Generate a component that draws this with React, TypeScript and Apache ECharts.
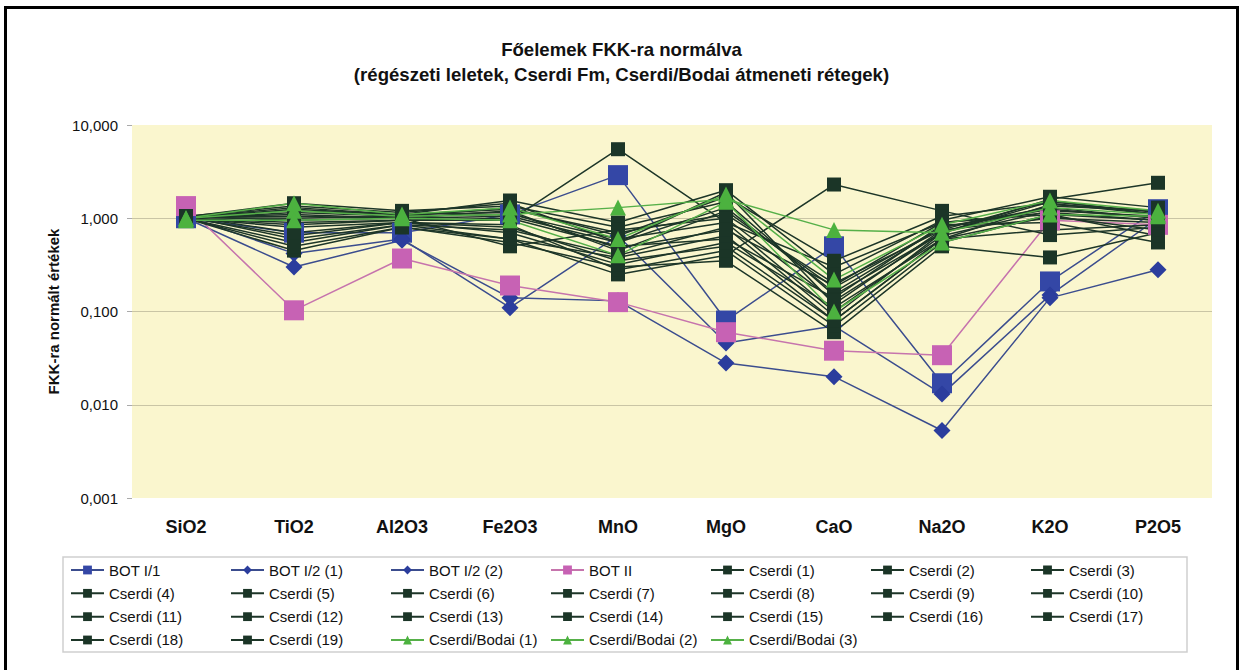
import React, { useEffect, useRef } from 'react';
import * as echarts from 'echarts';

const categories = ['SiO2', 'TiO2', 'Al2O3', 'Fe2O3', 'MnO', 'MgO', 'CaO', 'Na2O', 'K2O', 'P2O5'];

const botI1 = [1.0, 0.7, 0.7, 1.1, 2.9, 0.08, 0.5, 0.017, 0.21, 1.25];
const botI2a = [1.05, 0.42, 0.6, 0.11, 0.65, 0.046, 0.07, 0.013, 0.15, 1.0];
const botI2b = [1.0, 0.3, 0.58, 0.14, 0.13, 0.028, 0.02, 0.0053, 0.14, 0.28];
const botII = [1.35, 0.103, 0.37, 0.19, 0.126, 0.06, 0.038, 0.034, 0.95, 0.85];

const cserdiValues = [
  [1.05, 1.35, 1.15, 1.45, 0.55, 1.9, 0.12, 0.75, 1.55, 1.1],
  [1.02, 1.1, 1.0, 1.2, 0.45, 1.2, 0.18, 0.8, 1.3, 1.0],
  [1.0, 0.85, 0.95, 0.95, 5.5, 0.9, 0.3, 0.9, 1.1, 0.95],
  [1.05, 0.7, 0.9, 0.8, 0.35, 0.5, 0.08, 0.6, 1.4, 1.2],
  [1.0, 0.55, 0.85, 0.6, 0.25, 0.4, 2.3, 1.2, 0.66, 0.8],
  [1.03, 1.45, 1.2, 1.35, 0.8, 1.5, 0.15, 0.7, 1.6, 2.4],
  [1.0, 0.45, 0.8, 0.55, 0.3, 0.35, 0.06, 0.5, 0.38, 0.7],
  [1.02, 1.0, 1.05, 1.1, 0.6, 0.9, 0.1, 0.65, 1.2, 1.05],
  [1.04, 1.2, 1.1, 1.25, 0.7, 1.1, 0.2, 0.75, 1.0, 0.9],
  [1.0, 0.9, 0.95, 1.0, 0.5, 0.6, 0.14, 0.85, 0.9, 0.55],
  [1.05, 0.6, 0.85, 0.75, 0.4, 0.8, 0.09, 0.7, 1.5, 1.15],
  [1.01, 1.25, 1.1, 1.55, 0.9, 2.0, 0.25, 0.95, 1.7, 1.3],
  [1.0, 0.8, 0.9, 0.85, 0.28, 0.45, 0.07, 0.55, 1.1, 0.65],
  [1.03, 1.05, 1.0, 1.05, 0.55, 1.3, 0.16, 0.8, 1.25, 1.0],
  [1.02, 0.65, 0.9, 0.7, 0.32, 0.55, 0.11, 0.6, 0.75, 0.85],
  [1.0, 1.15, 1.05, 1.3, 0.65, 1.7, 0.35, 1.05, 1.45, 1.1],
  [1.04, 0.95, 1.0, 0.5, 0.75, 1.0, 0.13, 0.7, 1.35, 1.2],
  [1.0, 0.5, 0.8, 0.6, 0.38, 0.65, 0.08, 0.6, 1.05, 0.75],
  [1.02, 1.3, 1.1, 1.15, 0.48, 0.75, 0.19, 0.9, 1.15, 0.95],
];

const cb1 = [1.0, 1.2, 1.05, 1.1, 1.3, 1.6, 0.75, 0.7, 1.3, 1.1];
const cb2 = [1.0, 1.45, 1.1, 1.3, 0.6, 1.8, 0.22, 0.85, 1.55, 1.2];
const cb3 = [0.95, 0.95, 1.0, 0.95, 0.4, 1.5, 0.1, 0.55, 1.1, 1.05];

const cserdiNames = cserdiValues.map((_, i) => `Cserdi (${i + 1})`);

// legend laid out row by row, 7 columns
const legendOrder = [
  'BOT I/1', 'BOT I/2 (1)', 'BOT I/2 (2)', 'BOT II', 'Cserdi (1)', 'Cserdi (2)', 'Cserdi (3)',
  'Cserdi (4)', 'Cserdi (5)', 'Cserdi (6)', 'Cserdi (7)', 'Cserdi (8)', 'Cserdi (9)', 'Cserdi (10)',
  'Cserdi (11)', 'Cserdi (12)', 'Cserdi (13)', 'Cserdi (14)', 'Cserdi (15)', 'Cserdi (16)', 'Cserdi (17)',
  'Cserdi (18)', 'Cserdi (19)', 'Cserdi/Bodai (1)', 'Cserdi/Bodai (2)', 'Cserdi/Bodai (3)',
];
const LEGEND_COLS = 7;

const FONT = 'Arial, "Liberation Sans", sans-serif';

function mk(name: string, data: number[], symbol: string, size: number, fill: string, line: string) {
  return {
    name,
    type: 'line',
    data,
    symbol,
    symbolSize: size,
    showAllSymbol: true,
    itemStyle: { color: fill },
    lineStyle: { color: line, width: 1.5 },
    emphasis: { disabled: true },
  };
}

export default function App() {
  const ref = useRef<HTMLDivElement>(null);
  useEffect(() => {
    if (!ref.current) return;
    const chart = echarts.init(ref.current, undefined, { renderer: 'svg' });
    const series: any[] = [
      mk('BOT I/1', botI1, 'rect', 20, '#3447a6', '#3b4d8e'),
      mk('BOT I/2 (1)', botI2a, 'diamond', 17, '#2b3d9d', '#3b4d8e'),
      mk('BOT I/2 (2)', botI2b, 'diamond', 17, '#2b3d9d', '#3b4d8e'),
      mk('BOT II', botII, 'rect', 20, '#c762b4', '#c674ad'),
      ...cserdiValues.map((d, i) => mk(cserdiNames[i], d, 'rect', 14, '#1b3527', '#1d3628')),
      mk('Cserdi/Bodai (1)', cb1, 'triangle', 16, '#4cb23f', '#56b049'),
      mk('Cserdi/Bodai (2)', cb2, 'triangle', 16, '#4cb23f', '#56b049'),
      mk('Cserdi/Bodai (3)', cb3, 'triangle', 16, '#4cb23f', '#56b049'),
    ];
    const legends = [];
    for (let c = 0; c < LEGEND_COLS; c++) {
      const col = legendOrder.filter((_, i) => i % LEGEND_COLS === c);
      legends.push({
        data: col,
        orient: 'vertical',
        left: 70 + 160 * c,
        top: 562.5,
        padding: 0,
        itemWidth: 33,
        itemHeight: 11,
        itemGap: 8.33,
        selectedMode: false,
        textStyle: { fontFamily: FONT, fontSize: 15, color: '#111' },
      });
    }
    chart.setOption({
      animation: false,
      backgroundColor: '#ffffff',
      title: {
        text: 'Főelemek FKK-ra normálva\n(régészeti leletek, Cserdi Fm, Cserdi/Bodai átmeneti rétegek)',
        left: 'center',
        top: 32,
        textStyle: { fontFamily: FONT, fontSize: 18.6, fontWeight: 'bold', color: '#111', lineHeight: 25 },
      },
      grid: {
        left: 132,
        right: 31,
        top: 125,
        bottom: 172,
        show: true,
        backgroundColor: '#faf6ce',
        borderWidth: 0,
      },
      xAxis: {
        type: 'category',
        data: categories,
        boundaryGap: true,
        axisLine: { show: false },
        axisTick: { show: false },
        axisLabel: { fontFamily: FONT, fontSize: 18, fontWeight: 'bold', color: '#111', margin: 20 },
        splitLine: { show: false },
      },
      yAxis: {
        type: 'log',
        logBase: 10,
        min: 0.001,
        max: 10,
        name: 'FKK-ra normált értékek',
        nameLocation: 'middle',
        nameGap: 69,
        nameTextStyle: { fontFamily: FONT, fontSize: 15, fontWeight: 'bold', color: '#111' },
        axisLine: { show: false },
        axisTick: { show: true, length: 5, lineStyle: { color: '#aaa' } },
        axisLabel: {
          fontFamily: FONT,
          fontSize: 15,
          color: '#111',
          margin: 14,
          formatter: (v: number) => v.toFixed(3).replace('.', ','),
        },
        splitLine: { show: true, showMinLine: false, showMaxLine: false, lineStyle: { color: '#c9c5a5', width: 1 } },
      },
      legend: legends,
      graphic: [
        { type: 'rect', shape: { x: 63, y: 557, width: 1124, height: 95 }, style: { fill: 'none', stroke: '#cfcfcf', lineWidth: 1.5 }, silent: true },
        { type: 'line', shape: { x1: 4, y1: 7.5, x2: 1239, y2: 7.5 }, style: { stroke: '#000', lineWidth: 3 }, silent: true },
        { type: 'line', shape: { x1: 5.5, y1: 6, x2: 5.5, y2: 670 }, style: { stroke: '#000', lineWidth: 3 }, silent: true },
        { type: 'line', shape: { x1: 1237.5, y1: 6, x2: 1237.5, y2: 670 }, style: { stroke: '#000', lineWidth: 3 }, silent: true },
      ],
      series,
    });
    return () => chart.dispose();
  }, []);
  return <div ref={ref} style={{ position: 'fixed', left: 0, top: 0, width: 1243, height: 670 }} />;
}
